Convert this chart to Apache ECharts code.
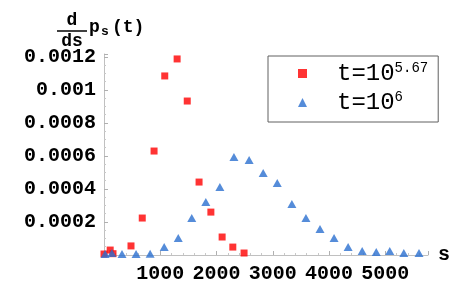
<!DOCTYPE html>
<html><head><meta charset="utf-8">
<script src="https://cdn.jsdelivr.net/npm/echarts@6/dist/echarts.min.js"></script>
<style>html,body{margin:0;padding:0;background:#fff}#c{width:471px;height:291px}</style>
</head><body><div id="c"></div>
<script>
var redS = [0, 110, 160, 480, 680, 890, 1080, 1300, 1480, 1690, 1900, 2100, 2290, 2490];
var redV = [0.000006, 0.00003, 0.000008, 0.000055, 0.000224, 0.00063, 0.001085, 0.001188, 0.000933, 0.000442, 0.00026, 0.000109, 0.000048, 0.000012];
var blueS = [20, 140, 320, 570, 820, 1070, 1320, 1560, 1810, 2060, 2310, 2580, 2830, 3080, 3340, 3590, 3840, 4090, 4340, 4590, 4840, 5080, 5330, 5600];
var blueV = [0.000006, 0.000012, 0.000006, 0.000006, 0.000008, 0.000048, 0.000103, 0.000224, 0.000321, 0.000412, 0.000594, 0.000576, 0.000497, 0.000436, 0.000309, 0.000224, 0.000158, 0.000103, 0.000048, 0.000024, 0.000018, 0.000024, 0.000012, 0.000012];
var seriesNames = ['t=10^5.67', 't=10^6'];
var legendText = {'t=10^5.67': ['t=10', '5.67'], 't=10^6': ['t=10', '6']};

var FONT = '"Liberation Mono", "DejaVu Sans Mono", monospace';
function pairs(xs, ys) { return xs.map(function (x, i) { return [x, ys[i]]; }); }

var chart = echarts.init(document.getElementById('c'), null, {renderer: 'canvas'});
chart.setOption({
  animation: false,
  grid: {left: 104, right: 43, top: 54, bottom: 36},
  xAxis: {
    type: 'value', min: 0, max: 5760, interval: 1000,
    name: 's', nameLocation: 'end', nameGap: 10,
    nameTextStyle: {fontFamily: FONT, fontSize: 20, fontWeight: 'bold', color: '#000', verticalAlign: 'middle'},
    axisLine: {show: true, lineStyle: {color: '#c0c0c0', width: 1}},
    axisTick: {show: true, inside: true, length: 4, lineStyle: {color: '#b0b0b0'}},
    minorTick: {show: true, splitNumber: 5, length: 2, lineStyle: {color: '#c8c8c8'}},
    splitLine: {show: false},
    axisLabel: {
      margin: 9, fontFamily: FONT, fontSize: 20, fontWeight: 'bold', color: '#000',
      formatter: function (v) { return (v > 0 && v % 1000 === 0) ? String(v) : ''; }
    }
  },
  yAxis: {
    type: 'value', min: 0, max: 0.001218, interval: 0.0002,
    axisLine: {show: true, lineStyle: {color: '#c0c0c0', width: 1}},
    axisTick: {show: true, inside: true, length: 4, lineStyle: {color: '#b0b0b0'}},
    minorTick: {show: true, splitNumber: 4, length: 2, lineStyle: {color: '#c8c8c8'}},
    splitLine: {show: false},
    axisLabel: {
      margin: 8, fontFamily: FONT, fontSize: 20, fontWeight: 'bold', color: '#000',
      formatter: function (v) {
        var k = Math.round(v / 0.0002);
        if (k <= 0 || Math.abs(v - k * 0.0002) > 1e-9) return '';
        return String(Number((k * 0.0002).toPrecision(6)));
      }
    }
  },
  legend: {
    orient: 'vertical', left: 268, top: 56,
    padding: [5, 10, 7, 30], itemGap: 4, itemWidth: 9, itemHeight: 9,
    borderColor: '#606060', borderWidth: 1,
    data: seriesNames,
    formatter: function (name) { var t = legendText[name]; return '{a|' + t[0] + '}{s|' + t[1] + '}'; },
    textStyle: {
      fontFamily: FONT, color: '#000',
      rich: {
        a: {fontFamily: FONT, fontSize: 24, lineHeight: 25, verticalAlign: 'bottom', padding: [0, 0, 0, 25], color: '#000'},
        s: {fontFamily: FONT, fontSize: 14, lineHeight: 14, verticalAlign: 'top', color: '#000'}
      }
    }
  },
  graphic: [
    {type: 'text', style: {x: 72, y: 20, text: 'd', align: 'center', verticalAlign: 'middle', font: 'bold 18px ' + FONT, fill: '#000'}},
    {type: 'line', shape: {x1: 57, y1: 31, x2: 87, y2: 31}, style: {stroke: '#000', lineWidth: 1.5}},
    {type: 'text', style: {x: 72, y: 41, text: 'ds', align: 'center', verticalAlign: 'middle', font: 'bold 18px ' + FONT, fill: '#000'}},
    {type: 'text', style: {x: 89, y: 27, text: 'p', align: 'left', verticalAlign: 'middle', font: 'bold 18px ' + FONT, fill: '#000'}},
    {type: 'text', style: {x: 101, y: 32, text: 's', align: 'left', verticalAlign: 'middle', font: 'bold 13px ' + FONT, fill: '#000'}},
    {type: 'text', style: {x: 112, y: 27, text: '(t)', align: 'left', verticalAlign: 'middle', font: 'bold 18px ' + FONT, fill: '#000'}}
  ],
  series: [
    {name: seriesNames[0], type: 'scatter', symbol: 'rect', symbolSize: 7,
     itemStyle: {color: '#ff0000'}, data: pairs(redS, redV)},
    {name: seriesNames[1], type: 'scatter', symbol: 'triangle', symbolSize: [9, 8],
     itemStyle: {color: '#2b6fcf'}, data: pairs(blueS, blueV)}
  ]
});
</script></body></html>
